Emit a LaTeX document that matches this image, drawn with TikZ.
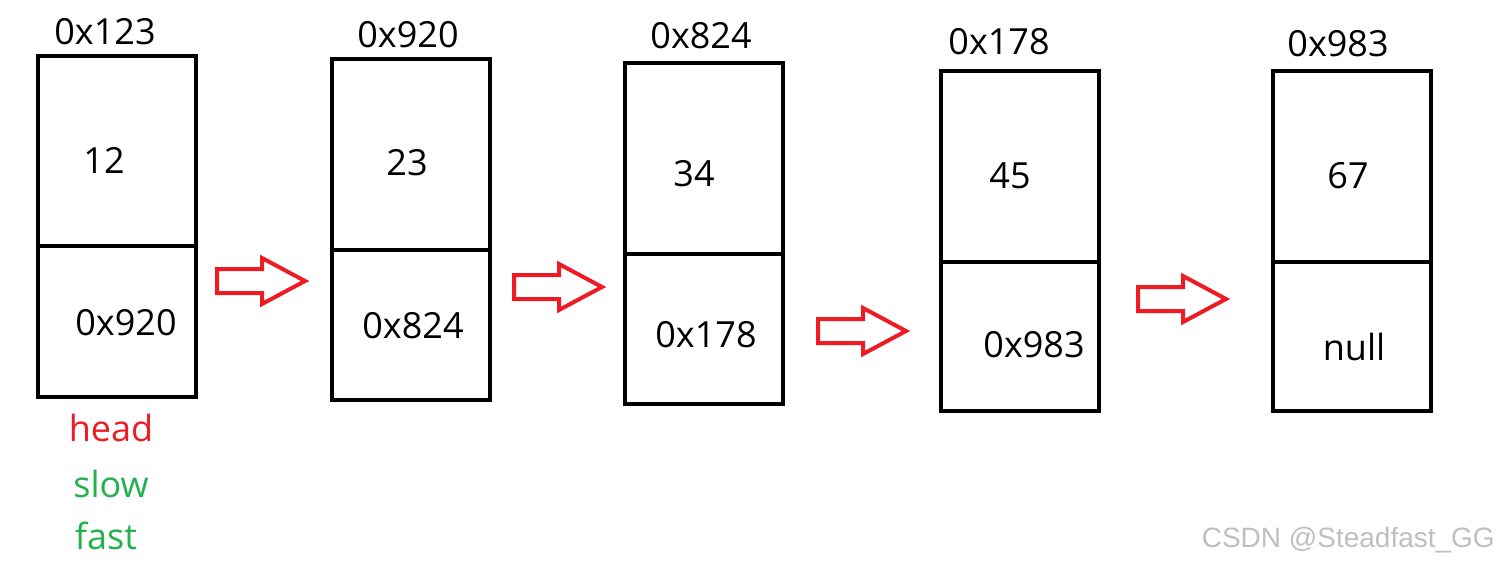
\documentclass[tikz,border=0pt]{standalone}
\usepackage{fontspec}
\setmainfont{Open Sans}
\newfontfamily\wmfont{Liberation Sans}
\definecolor{ared}{HTML}{ED1C24}
\definecolor{agreen}{HTML}{22B14C}
\begin{document}
\begin{tikzpicture}[x=1pt,y=-1pt,
  cell/.style={draw=black,line width=4pt,minimum width=158pt,inner sep=0pt,anchor=north west},
  txt/.style={font=\fontsize{36}{40}\selectfont,inner sep=0pt},
  lbl/.style={font=\fontsize{36}{40}\selectfont,inner sep=0pt},
  blockarrow/.style={draw=ared,line width=4pt,line join=miter},
  wm/.style={font=\wmfont\fontsize{28}{30}\selectfont,text=black!25,inner sep=0pt}
]
\useasboundingbox (0,0) rectangle (1500,565);
% boxes: x, top, divider, bottom
\foreach \n/\x/\t/\d/\b in {1/37/55/245/396, 2/331/58/249/399, 3/624/62/253/403, 4/940/70/261/410, 5/1272/70/261/410}{
  \node[cell,minimum height={\d-\t}] (top\n) at (\x-1,\t-1) {};
  \node[cell,minimum height={\b-\d}] (bot\n) at (\x-1,\d-1) {};
}
% addresses above
\node[lbl] (a1) at (105,32) {0x123};
\node[lbl] (a2) at (408,35) {0x920};
\node[lbl] (a3) at (701,36) {0x824};
\node[lbl] (a4) at (999,42) {0x178};
\node[lbl] (a5) at (1338,44) {0x983};
% values
\node[txt] (v1) at (104,160) {12};
\node[txt] (v2) at (407,163) {23};
\node[txt] (v3) at (694,174) {34};
\node[txt] (v4) at (1010,176) {45};
\node[txt] (v5) at (1348,176) {67};
% next pointers
\node[txt] (p1) at (126,323) {0x920};
\node[txt] (p2) at (413,326) {0x824};
\node[txt] (p3) at (706,335) {0x178};
\node[txt] (p4) at (1034,345) {0x983};
\node[txt] (p5) at (1354,347) {null};
% block arrows
\foreach \x/\y in {217/281, 514/287, 818/331, 1138/299}{
  \draw[blockarrow] (\x,\y-12) -- ++(45,0) -- ++(0,-11) -- ++(43,23) -- ++(-43,23) -- ++(0,-11) -- ++(-45,0) -- cycle;
}
% pointer labels
\node[lbl,text=ared] (head) at (111,428) {head};
\node[lbl,text=agreen] (slow) at (111,484) {slow};
\node[lbl,text=agreen] (fast) at (106,536) {fast};
% watermark
\node[wm,anchor=east] (wmk) at (1495,540) {CSDN @Steadfast\_GG};
\end{tikzpicture}
\end{document}
